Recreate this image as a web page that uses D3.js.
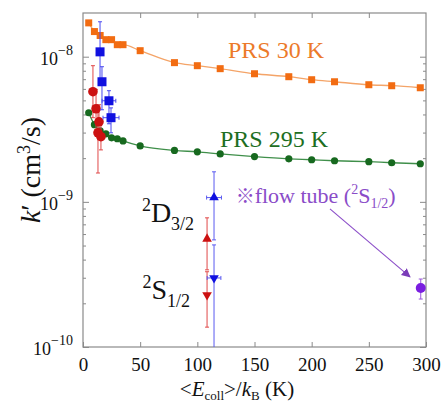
<!DOCTYPE html>
<html>
<head>
<meta charset="utf-8">
<script src="https://cdn.jsdelivr.net/npm/d3@7"></script>
<style>
  body { margin: 0; background: #fff; }
  text { font-family: "Liberation Serif", "DejaVu Serif", serif; }
</style>
</head>
<body>
<svg id="chart" width="441" height="402"></svg>
<script>
// PRS model curves
let xPRS = [5, 10, 15, 20, 25, 30, 35, 50, 80, 100, 120, 150, 180, 200, 220, 250, 270, 295]
let kPRS30 = [1.71e-8, 1.49e-8, 1.40e-8, 1.31e-8, 1.31e-8, 1.21e-8, 1.21e-8, 1.10e-8, 9.1e-9, 8.67e-9,
  8.27e-9, 7.63e-9, 7.28e-9, 6.94e-9, 6.72e-9, 6.41e-9, 6.31e-9, 6.11e-9]
let kPRS295 = [4.11e-9, 3.40e-9, 3.09e-9, 2.94e-9, 2.76e-9, 2.72e-9, 2.63e-9, 2.43e-9, 2.26e-9, 2.21e-9,
  2.14e-9, 2.05e-9, 1.98e-9, 1.95e-9, 1.92e-9, 1.89e-9, 1.86e-9, 1.83e-9]

// measured, red circles
let xRed = [8.7, 11.4, 14.0, 13.1, 15.7]
let kRed = [5.74e-9, 4.38e-9, 3.56e-9, 2.99e-9, 2.81e-9]
let kRedLo = [3.8e-9, 3.14e-9, 2.68e-9, 1.58e-9, 2.28e-9]
let kRedHi = [8.67e-9, 5.92e-9, 4.67e-9, 4.31e-9, 3.68e-9]

// measured, blue squares
let xBlue = [14.9, 16.6, 22.7, 24.5]
let kBlue = [1.08e-8, 6.72e-9, 4.97e-9, 3.8e-9]
let kBlueLo = [7.0e-9, 4.31e-9, 3.45e-9, 2.99e-9]
let kBlueHi = [1.74e-8, 8.53e-9, 5.83e-9, 4.44e-9]
let xBlueErr = [0, 0, 6, 7]

// fine-structure states (up triangles 2D3/2, down triangles 2S1/2)
let xTriRed = [108.5, 108.5]
let kTriRed = [5.56e-10, 2.28e-10]
let kTriRedLo = [3.40e-10, 1.37e-10]
let kTriRedHi = [7.76e-10, 3.3e-10]
let xTriBlue = [114.6, 114.6]
let kTriBlue = [1.07e-9, 2.99e-10]
let kTriBlueLo = [5.47e-10, 5e-11]
let kTriBlueHi = [1.61e-9, 5.05e-10]
let xTriBlueErr = [6.5, 6]

// flow tube point
let xFlow = [295.4]
let kFlow = [2.55e-10]
let kFlowLo = [2.14e-10]
let kFlowHi = [2.94e-10]

let xTicks = [0, 50, 100, 150, 200, 250, 300]
let yTicks = [1e-10, 1e-9, 1e-8]
let yTickExp = ['−10', '−9', '−8']

let serif = '"Liberation Serif", "DejaVu Serif", serif'

let svg = d3.select('#chart')
let W = +svg.attr('width')
let H = +svg.attr('height')
let m = { left: 83, top: 13, right: 15, bottom: 55 }

let x = d3.scaleLinear().domain([0, 300]).range([m.left, W - m.right])
let y = d3.scaleLog().domain([1e-10, 2e-8]).range([H - m.bottom, m.top])

let axisColor = '#8a8a8a'

let minor = []
;[1e-10, 1e-9, 1e-8].forEach(function (d) {
  for (let i = 2; i <= 9; i++) if (d * i < 2e-8) minor.push(d * i)
})

svg.append('defs').append('clipPath').attr('id', 'clip')
  .append('rect').attr('x', m.left).attr('y', m.top)
  .attr('width', W - m.left - m.right).attr('height', H - m.top - m.bottom)

// frame
svg.append('rect')
  .attr('x', m.left).attr('y', m.top)
  .attr('width', W - m.left - m.right).attr('height', H - m.top - m.bottom)
  .attr('fill', 'none').attr('stroke', axisColor).attr('stroke-width', 1.2)

function styleAxis (g) {
  g.select('.domain').remove()
  g.selectAll('line').attr('stroke', axisColor)
  g.attr('font-family', serif)
}

// x axes
svg.append('g').attr('transform', 'translate(0,' + (H - m.bottom) + ')')
  .call(d3.axisBottom(x).tickValues(xTicks).tickSize(-5).tickPadding(11).tickFormat(d3.format('d')))
  .call(styleAxis)
  .selectAll('text').attr('font-size', 19).attr('fill', '#111')
svg.append('g').attr('transform', 'translate(0,' + m.top + ')')
  .call(d3.axisTop(x).tickValues(xTicks.slice(1, -1)).tickSize(-5).tickFormat(''))
  .call(styleAxis)

// y axes, major + minor, both sides
svg.append('g').attr('transform', 'translate(' + m.left + ',0)')
  .call(d3.axisLeft(y).tickValues(yTicks).tickSize(-6).tickFormat(''))
  .call(styleAxis)
svg.append('g').attr('transform', 'translate(' + m.left + ',0)')
  .call(d3.axisLeft(y).tickValues(minor).tickSize(-3).tickFormat(''))
  .call(styleAxis)
svg.append('g').attr('transform', 'translate(' + (W - m.right) + ',0)')
  .call(d3.axisRight(y).tickValues(yTicks).tickSize(-6).tickFormat(''))
  .call(styleAxis)
svg.append('g').attr('transform', 'translate(' + (W - m.right) + ',0)')
  .call(d3.axisRight(y).tickValues(minor).tickSize(-3).tickFormat(''))
  .call(styleAxis)

// y tick labels 10^n
yTicks.forEach(function (d, i) {
  let t = svg.append('text')
    .attr('x', m.left - 10).attr('y', y(d) + 8).attr('font-family', serif)
    .attr('text-anchor', 'end').attr('font-size', 18).attr('fill', '#111')
  t.append('tspan').text('10')
  t.append('tspan').attr('dy', -10).attr('font-size', 14).text(yTickExp[i])
})

let plot = svg.append('g').attr('clip-path', 'url(#clip)')

// PRS curves
let prs30 = xPRS.map(function (d, i) { return [d, kPRS30[i]] })
let prs295 = xPRS.map(function (d, i) { return [d, kPRS295[i]] })
let line = d3.line().x(function (d) { return x(d[0]) }).y(function (d) { return y(d[1]) }).curve(d3.curveMonotoneX)

plot.append('path').datum(prs30).attr('d', line)
  .attr('fill', 'none').attr('stroke', '#f4a468').attr('stroke-width', 1.3)
plot.selectAll('.sq30').data(prs30).enter().append('rect')
  .attr('x', function (d) { return x(d[0]) - 3.5 }).attr('y', function (d) { return y(d[1]) - 3.5 })
  .attr('width', 7).attr('height', 7).attr('fill', '#f26c12')

plot.append('path').datum(prs295).attr('d', line)
  .attr('fill', 'none').attr('stroke', '#3f8f4a').attr('stroke-width', 1.3)
plot.selectAll('.c295').data(prs295).enter().append('circle')
  .attr('cx', function (d) { return x(d[0]) }).attr('cy', function (d) { return y(d[1]) })
  .attr('r', 3.6).attr('fill', '#17691f')

function errV (g, px, lo, hi, color, cap) {
  g.append('line').attr('x1', x(px)).attr('x2', x(px)).attr('y1', y(lo)).attr('y2', y(hi))
    .attr('stroke', color).attr('stroke-width', 1)
  ;[lo, hi].forEach(function (v) {
    g.append('line').attr('x1', x(px) - cap).attr('x2', x(px) + cap).attr('y1', y(v)).attr('y2', y(v))
      .attr('stroke', color).attr('stroke-width', 1)
  })
}
function errH (g, px, py, e, color, cap) {
  if (!e) return
  g.append('line').attr('x1', x(px - e)).attr('x2', x(px + e)).attr('y1', y(py)).attr('y2', y(py))
    .attr('stroke', color).attr('stroke-width', 1)
  ;[px - e, px + e].forEach(function (v) {
    g.append('line').attr('x1', x(v)).attr('x2', x(v)).attr('y1', y(py) - cap).attr('y2', y(py) + cap)
      .attr('stroke', color).attr('stroke-width', 1)
  })
}

let red = '#cc1111'
let blue = '#1010e0'

// red circles
xRed.forEach(function (d, i) {
  errV(plot, d, kRedLo[i], kRedHi[i], '#e04848', 2)
  errH(plot, d, kRed[i], 2, '#e04848', 2)
})
plot.selectAll('.red').data(xRed).enter().append('circle')
  .attr('cx', function (d) { return x(d) }).attr('cy', function (d, i) { return y(kRed[i]) })
  .attr('r', 4.8).attr('fill', red)

// blue squares
xBlue.forEach(function (d, i) {
  errV(plot, d, kBlueLo[i], kBlueHi[i], '#4a4af0', 2)
  errH(plot, d, kBlue[i], xBlueErr[i], '#4a4af0', 2)
})
plot.selectAll('.blue').data(xBlue).enter().append('rect')
  .attr('x', function (d) { return x(d) - 4.5 }).attr('y', function (d, i) { return y(kBlue[i]) - 4.5 })
  .attr('width', 9).attr('height', 9).attr('fill', blue)

// triangles: index 0 points up, index 1 points down
let tri = d3.symbol().type(d3.symbolTriangle).size(40)

xTriRed.forEach(function (d, i) {
  errV(plot, d, kTriRedLo[i], kTriRedHi[i], '#e04848', 2)
  plot.append('path').attr('d', tri())
    .attr('transform', 'translate(' + x(d) + ',' + y(kTriRed[i]) + ')' + (i === 1 ? ' rotate(180)' : ''))
    .attr('fill', red)
})
xTriBlue.forEach(function (d, i) {
  errV(plot, d, kTriBlueLo[i], kTriBlueHi[i], '#5a5af0', 2)
  errH(plot, d, kTriBlue[i], xTriBlueErr[i], '#5a5af0', 2)
  plot.append('path').attr('d', tri())
    .attr('transform', 'translate(' + x(d) + ',' + y(kTriBlue[i]) + ')' + (i === 1 ? ' rotate(180)' : ''))
    .attr('fill', blue)
})

// flow tube
xFlow.forEach(function (d, i) {
  errV(plot, d, kFlowLo[i], kFlowHi[i], '#9a55dd', 2)
  errH(plot, d, kFlow[i], 2, '#9a55dd', 2)
})
plot.selectAll('.flow').data(xFlow).enter().append('circle')
  .attr('cx', function (d) { return x(d) }).attr('cy', function (d, i) { return y(kFlow[i]) })
  .attr('r', 5).attr('fill', '#7a1ee0')

// arrow
let purple = '#8a4cc8'
svg.select('defs').append('marker').attr('id', 'arrow')
  .attr('viewBox', '0 0 10 10').attr('refX', 9).attr('refY', 5)
  .attr('markerWidth', 9).attr('markerHeight', 9).attr('markerUnits', 'userSpaceOnUse')
  .attr('orient', 'auto')
  .append('path').attr('d', 'M0,0 L10,5 L0,10 z').attr('fill', '#7a3cb8')
svg.append('line')
  .attr('x1', x(216)).attr('y1', y(8.95e-10)).attr('x2', x(286)).attr('y2', y(3.04e-10))
  .attr('stroke', purple).attr('stroke-width', 1.1).attr('marker-end', 'url(#arrow)')

// annotations
svg.append('text').attr('x', x(126.8)).attr('y', y(9.85e-9)).attr('font-size', 24)
  .attr('font-family', serif).attr('fill', '#ec7a2a').text('PRS 30 K')
svg.append('text').attr('x', x(119.8)).attr('y', y(2.39e-9)).attr('font-size', 24)
  .attr('font-family', serif).attr('fill', '#1d6e22').text('PRS 295 K')

let ft = svg.append('text').attr('x', x(133.5)).attr('y', y(9.8e-10)).attr('font-size', 22)
  .attr('font-family', serif).attr('fill', purple)
ft.append('tspan').attr('font-family', '"Noto Sans CJK JP", sans-serif').attr('font-size', 19).text('※')
ft.append('tspan').text('flow tube (')
ft.append('tspan').attr('dy', -9).attr('font-size', 14).text('2')
ft.append('tspan').attr('dy', 9).text('S')
ft.append('tspan').attr('dy', 5).attr('font-size', 14).text('1/2')
ft.append('tspan').attr('dy', -5).text(')')

function stateLabel (xv, yv, letter, sub) {
  let t = svg.append('text').attr('x', x(xv)).attr('y', y(yv)).attr('font-size', 28)
    .attr('font-family', serif).attr('fill', '#111')
  t.append('tspan').attr('dy', -11).attr('font-size', 18).text('2')
  t.append('tspan').attr('dy', 11).text(letter)
  t.append('tspan').attr('dy', 8).attr('font-size', 18).text(sub)
}
stateLabel(51.5, 7.3e-10, 'D', '3/2')
stateLabel(52, 2.15e-10, 'S', '1/2')

// axis titles
let yl = svg.append('text').attr('transform', 'translate(40,170) rotate(-90)')
  .attr('font-family', serif).attr('text-anchor', 'middle').attr('font-size', 28).attr('fill', '#111')
yl.append('tspan').attr('font-style', 'italic').text('k')
yl.append('tspan').text('′ (cm')
yl.append('tspan').attr('dy', -10).attr('font-size', 18).text('3')
yl.append('tspan').attr('dy', 10).text('/s)')

let xl = svg.append('text').attr('x', 237).attr('y', 396)
  .attr('font-family', serif).attr('text-anchor', 'middle').attr('font-size', 21).attr('fill', '#111')
xl.append('tspan').text('<')
xl.append('tspan').attr('font-style', 'italic').text('E')
xl.append('tspan').attr('dy', 4).attr('font-size', 13).text('coll')
xl.append('tspan').attr('dy', -4).text('>/')
xl.append('tspan').attr('font-style', 'italic').text('k')
xl.append('tspan').attr('dy', 4).attr('font-size', 13).text('B')
xl.append('tspan').attr('dy', -4).text(' (K)')
</script>
</body>
</html>
